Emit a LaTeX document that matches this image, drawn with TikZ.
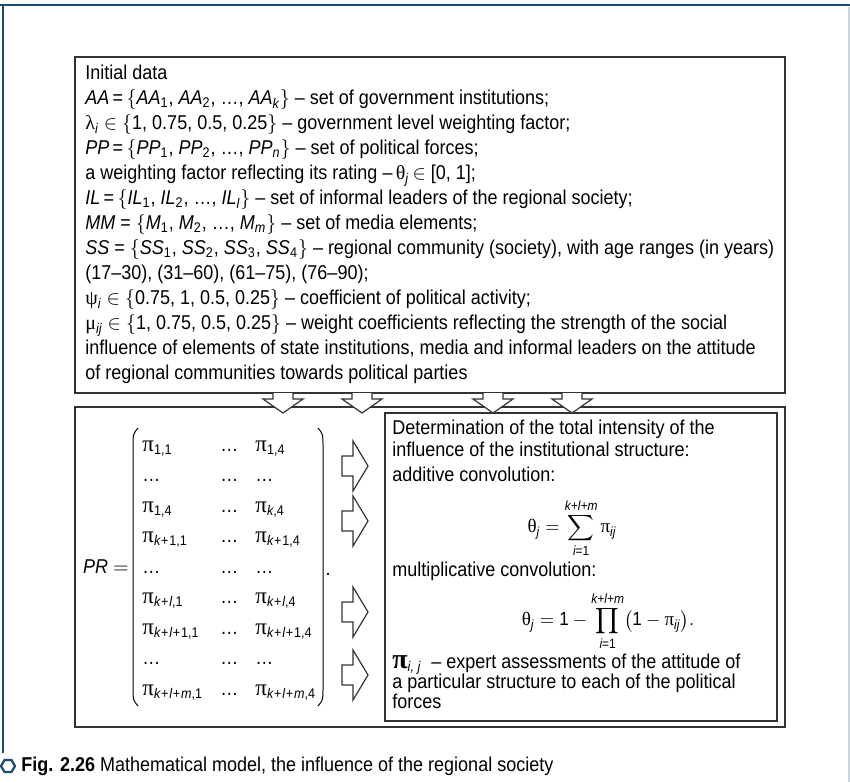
\documentclass[tikz,border=0pt]{standalone}
\usepackage{amsmath}
\usepackage{fontspec}
\setmainfont{Liberation Sans}[FakeStretch=0.9]
\newfontfamily\grk{Liberation Serif}
\definecolor{frameblue}{HTML}{1B4B72}
\definecolor{edgeblue}{HTML}{C9D7E3}
\definecolor{boxline}{HTML}{333333}
\newcommand\gr[1]{{\grk #1}}
\newcommand\sbi[1]{\textsubscript{\itshape #1}}
\newcommand\sbu[1]{\textsubscript{#1}}
\newcommand\mpi[1]{{\grk\fontsize{11.5}{11.5}\selectfont π}\textsubscript{#1}}
\newcommand\ik{{\itshape k}}
\newcommand\il{{\itshape l}}
\newcommand\im{{\itshape m}}
\newcommand\pl{\kern0.4pt+\kern0.4pt}
\newcommand\mt[1]{\text{\itshape #1}}
\newcommand\mg[1]{\text{\grk #1}}
\tikzset{
  boxframe/.style={draw=boxline, line width=0.7pt},
  blockarrow/.style={draw=boxline, fill=white, line width=0.6pt, line join=miter},
  parenline/.style={draw=black, line width=0.5pt},
  txt/.style={anchor=base west, inner sep=0pt, font=\fontsize{10}{12}\selectfont},
  formula/.style={inner sep=0pt, font=\fontsize{9.5}{11}\selectfont},
}
\newcommand\rarr[1]{\filldraw[blockarrow] (342,#1-10) -- (353,#1-10) -- (353,#1-25) -- (368,#1) -- (353,#1+25) -- (353,#1+10) -- (342,#1+10) -- cycle;}
\newcommand\darr[1]{\filldraw[blockarrow] (#1-10,393) -- (#1-10,399) -- (#1-20,399) -- (#1,413) -- (#1+20,399) -- (#1+10,399) -- (#1+10,393);}
\begin{document}
\begin{tikzpicture}[x=0.5pt,y=-0.5pt]
\useasboundingbox (0,0) rectangle (850,782);
% outer frame lines
\draw[frameblue, line width=1.3pt] (0,5) -- (850,5);
\draw[frameblue, line width=1.1pt] (3,5) -- (3,753);
\draw[edgeblue, line width=0.6pt] (849,7) -- (849,782);
% boxes
\draw[boxframe] (75,57) rectangle (785,393);
\draw[boxframe] (75,407) rectangle (785,727);
\draw[boxframe] (385,413) rectangle (777,721);
% initial data text
\node[anchor=north west, align=left, inner sep=0pt, font=\fontsize{10}{12.5}\selectfont] (init) at (85,65) {%
Initial data\\
\textit{AA}\,=\,$\{$\textit{AA}\sbu{1}, \textit{AA}\sbu{2}, \dots, \textit{AA}\sbi{k}$\}$ -- set of government institutions;\\
\gr{λ}\sbi{i} $\in$ $\{$1, 0.75, 0.5, 0.25$\}$ -- government level weighting factor;\\
\textit{PP}\,=\,$\{$\textit{PP}\sbu{1}, \textit{PP}\sbu{2}, \dots, \textit{PP}\sbi{n}$\}$ -- set of political forces;\\
a weighting factor reflecting its rating --\,\gr{θ}\sbi{j}\,$\in$ [0, 1];\\
\textit{IL}\,=\,$\{$\textit{IL}\sbu{1}, \textit{IL}\sbu{2}, \dots, \textit{IL}\sbi{l}$\}$ -- set of informal leaders of the regional society;\\
\textit{MM} = $\{$\textit{M}\sbu{1}, \textit{M}\sbu{2}, \dots, \textit{M}\sbi{m}$\}$ -- set of media elements;\\
\textit{SS} = $\{$\textit{SS}\sbu{1}, \textit{SS}\sbu{2}, \textit{SS}\sbu{3}, \textit{SS}\sbu{4}$\}$ -- regional community (society), with age ranges (in years)\\
(17--30), (31--60), (61--75), (76--90);\\
\gr{ψ}\sbi{i} $\in$ $\{$0.75, 1, 0.5, 0.25$\}$ -- coefficient of political activity;\\
\gr{μ}\sbi{ij} $\in$ $\{$1, 0.75, 0.5, 0.25$\}$ -- weight coefficients reflecting the strength of the social\\
influence of elements of state institutions, media and informal leaders on the attitude\\
of regional communities towards political parties};
% matrix
\node[anchor=east, inner sep=0pt, font=\fontsize{10}{12}\selectfont] (prl) at (129,567) {\textit{PR} $=$};
\node[anchor=west, inner sep=0pt, font=\fontsize{10}{12}\selectfont] (mat) at (142,567) {\def\arraystretch{1.27}%
\begin{tabular}{@{}p{39pt}@{}p{17.5pt}@{}l@{}}
\mpi{1,1} & \dots & \mpi{1,4}\\
\dots & \dots & \dots\\
\mpi{1,4} & \dots & \mpi{\ik,4}\\
\mpi{\ik\pl1,1} & \dots & \mpi{\ik\pl1,4}\\
\dots & \dots & \dots\\
\mpi{\ik\pl\il,1} & \dots & \mpi{\ik\pl\il,4}\\
\mpi{\ik\pl\il\pl1,1} & \dots & \mpi{\ik\pl\il\pl1,4}\\
\dots & \dots & \dots\\
\mpi{\ik\pl\il\pl\im,1} & \dots & \mpi{\ik\pl\il\pl\im,4}
\end{tabular}};
\node[inner sep=0pt, font=\fontsize{10}{12}\selectfont] (dot) at (328,574) {.};
\draw[parenline] (138,428) .. controls (133,434) .. (133,446) -- (133,688) .. controls (133,700) .. (138,706);
\draw[parenline] (318,428) .. controls (323,434) .. (323,446) -- (323,688) .. controls (323,700) .. (318,706);
% arrows
\darr{283}\darr{362}\darr{493}\darr{572}
\rarr{466}\rarr{521}\rarr{612}\rarr{675}
% right box text
\node[txt] (det) at (392,434) {Determination of the total intensity of the};
\node[txt] (infl) at (392,456) {influence of the institutional structure:};
\node[txt] (add) at (392,481) {additive convolution:};
\node[formula] (sum) at (572,528)
 {$\displaystyle \mg{θ}_{\mt{j}} = \sum_{\mt{i}\text{=1}}^{\mt{k+l+m}} \mg{π}_{\mt{ij}}$};
\node[txt] (mult) at (392,576) {multiplicative convolution:};
\node[formula] (prod) at (608,621)
 {$\displaystyle \mg{θ}_{\mt{j}} = \text{1} - \prod_{\mt{i}\text{=1}}^{\mt{k+l+m}} \bigl(\text{1} - \mg{π}_{\mt{ij}}\bigr).$};
\node[txt] (pij) at (392,668) {{\grk\bfseries\fontsize{14}{14}\selectfont π}\textsubscript{\itshape i, j}\ \ -- expert assessments of the attitude of};
\node[txt] (part) at (392,688) {a particular structure to each of the political};
\node[txt] (forc) at (392,708) {forces};
% caption
\draw[frameblue, line width=1.1pt] (1,766) -- (4.5,760) -- (11.5,760) -- (15,766) -- (11.5,772) -- (4.5,772) -- cycle;
\node[anchor=base west, inner sep=0pt, font=\fontsize{10}{12}\selectfont] (cap) at (21,771) {\textbf{Fig. 2.26} Mathematical model, the influence of the regional society};
\end{tikzpicture}
\end{document}
